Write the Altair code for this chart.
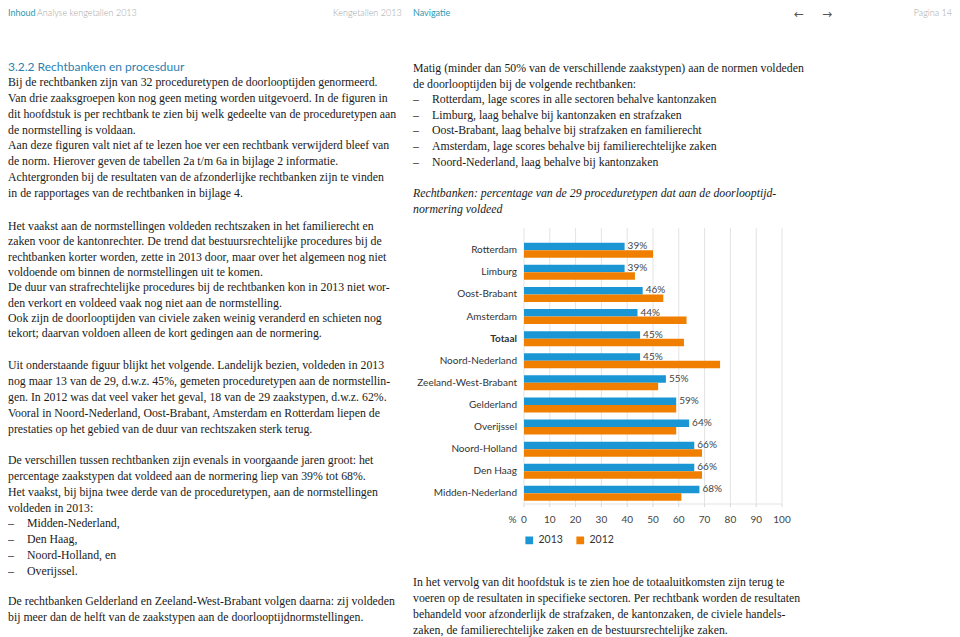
import altair as alt
import pandas as pd

# ---------------- data ----------------
courts = ["Rotterdam", "Limburg", "Oost-Brabant", "Amsterdam", "Totaal",
          "Noord-Nederland", "Zeeland-West-Brabant", "Gelderland", "Overijssel",
          "Noord-Holland", "Den Haag", "Midden-Nederland"]
v2013 = [39, 39, 46, 44, 45, 45, 55, 59, 64, 66, 66, 68]
v2012 = [50, 43, 54, 63, 62, 76, 52, 59, 59, 69, 69, 61]
years = ["2013", "2012"]
year_colors = ["#1b96d4", "#f07f00"]
ticks = [0, 10, 20, 30, 40, 50, 60, 70, 80, 90, 100]
total_label = "Totaal"

header_teal = ["Inhoud", "Navigatie"]
header_grey = ["Analyse kengetallen 2013", "Kengetallen 2013"]
page_label = "Pagina 14"

heading = "3.2.2  Rechtbanken en procesduur"

left_paras = [
    ["Bij de rechtbanken zijn van 32 proceduretypen de doorlooptijden genormeerd.",
     "Van drie zaaksgroepen kon nog geen meting worden uitgevoerd. In de figuren in",
     "dit hoofdstuk is per rechtbank te zien bij welk gedeelte van de proceduretypen aan",
     "de normstelling is voldaan.",
     "Aan deze figuren valt niet af te lezen hoe ver een rechtbank verwijderd bleef van",
     "de norm. Hierover geven de tabellen 2a t/m 6a in bijlage 2 informatie.",
     "Achtergronden bij de resultaten van de afzonderlijke rechtbanken zijn te vinden",
     "in de rapportages van de rechtbanken in bijlage 4."],
    ["Het vaakst aan de normstellingen voldeden rechtszaken in het familierecht en",
     "zaken voor de kantonrechter. De trend dat bestuursrechtelijke procedures bij de",
     "rechtbanken korter worden, zette in 2013 door, maar over het algemeen nog niet",
     "voldoende om binnen de normstellingen uit te komen.",
     "De duur van strafrechtelijke procedures bij de rechtbanken kon in 2013 niet wor-",
     "den verkort en voldeed vaak nog niet aan de normstelling.",
     "Ook zijn de doorlooptijden van civiele zaken weinig veranderd en schieten nog",
     "tekort; daarvan voldoen alleen de kort gedingen aan de normering."],
    ["Uit onderstaande figuur blijkt het volgende. Landelijk bezien, voldeden in 2013",
     "nog maar 13 van de 29, d.w.z. 45%, gemeten proceduretypen aan de normstellin-",
     "gen. In 2012 was dat veel vaker het geval, 18 van de 29 zaakstypen, d.w.z. 62%.",
     "Vooral in Noord-Nederland, Oost-Brabant, Amsterdam en Rotterdam liepen de",
     "prestaties op het gebied van de duur van rechtszaken sterk terug."],
    ["De verschillen tussen rechtbanken zijn evenals in voorgaande jaren groot: het",
     "percentage zaakstypen dat voldeed aan de normering liep van 39% tot 68%.",
     "Het vaakst, bij bijna twee derde van de proceduretypen, aan de normstellingen",
     "voldeden in 2013:",
     "– Midden-Nederland,",
     "– Den Haag,",
     "– Noord-Holland, en",
     "– Overijssel."],
    ["De rechtbanken Gelderland en Zeeland-West-Brabant volgen daarna: zij voldeden",
     "bij meer dan de helft van de zaakstypen aan de doorlooptijdnormstellingen."],
]

right_paras = [
    ["Matig (minder dan 50% van de verschillende zaakstypen) aan de normen voldeden",
     "de doorlooptijden bij de volgende rechtbanken:",
     "– Rotterdam, lage scores in alle sectoren behalve kantonzaken",
     "– Limburg, laag behalve bij kantonzaken en strafzaken",
     "– Oost-Brabant, laag behalve bij strafzaken en familierecht",
     "– Amsterdam, lage scores behalve bij familierechtelijke zaken",
     "– Noord-Nederland, laag behalve bij kantonzaken"],
]
chart_title_lines = ["Rechtbanken: percentage van de 29 proceduretypen dat aan de doorlooptijd-",
                     "normering voldeed"]
bottom_paras = [
    ["In het vervolg van dit hoofdstuk is te zien hoe de totaaluitkomsten zijn terug te",
     "voeren op de resultaten in specifieke sectoren. Per rechtbank worden de resultaten",
     "behandeld voor afzonderlijk de strafzaken, de kantonzaken, de civiele handels-",
     "zaken, de familierechtelijke zaken en de bestuursrechtelijke zaken."],
]

# ---------------- layout helpers ----------------
OX, OY = 8, 8  # page margin
W, H = 944, 629
SERIF = "Liberation Serif"
SANS = "Lato"
SERIF_SIZE = 11.8
TEXT_COL = "#1a1a1a"


def layout(paras, x0, starts, pitches, indent):
    rows = []
    for para, y0, pitch in zip(paras, starts, pitches):
        for i, line in enumerate(para):
            y = y0 + i * pitch - OY
            if line.startswith("– "):
                rows.append({"x": x0 - OX, "y": y, "text": "–"})
                rows.append({"x": x0 + indent - OX, "y": y, "text": line[2:]})
            else:
                rows.append({"x": x0 - OX, "y": y, "text": line})
    return pd.DataFrame(rows)


def text_layer(df, font=SERIF, size=SERIF_SIZE, color=TEXT_COL, style="normal",
               weight="normal", align="left"):
    return alt.Chart(df).mark_text(
        align=align, baseline="middle", font=font, fontSize=size, color=color,
        fontStyle=style, fontWeight=weight
    ).encode(
        x=alt.X("x:Q", scale=None, axis=None),
        y=alt.Y("y:Q", scale=None, axis=None),
        text="text:N",
    )


# ---------------- page text ----------------
left_df = layout(left_paras, 8, [82, 226, 365, 460, 601], [15.85, 15.35, 16.0, 15.86, 16.0], 19)
right_df = layout(right_paras, 413, [68], [15.6], 19)
title_df = layout([chart_title_lines], 413, [193], [15.6], 19)
bottom_df = layout(bottom_paras, 413, [582], [16.0], 19)
heading_df = pd.DataFrame([{"x": 8 - OX, "y": 67 - OY, "text": heading}])

teal_df = pd.DataFrame([{"x": hx - OX, "y": 4.5, "text": t}
                        for hx, t in zip([8, 413], header_teal)])
grey_df = pd.DataFrame([{"x": hx - OX, "y": 4.5, "text": t}
                        for hx, t in zip([37, 333], header_grey)])
page_df = pd.DataFrame([{"x": W, "y": 4.5, "text": page_label}])
arrows_df = pd.DataFrame([{"x": 799 - OX, "y": 6, "text": "←"},
                          {"x": 827 - OX, "y": 6, "text": "→"}])

# ---------------- bar chart ----------------
bars_df = pd.DataFrame(
    [{"court": c, "year": years[0], "value": a} for c, a in zip(courts, v2013)] +
    [{"court": c, "year": years[1], "value": b} for c, b in zip(courts, v2012)]
)
lab_df = pd.DataFrame({"court": courts, "value": v2013,
                       "label": [f"{v}%" for v in v2013]})
cat_df = pd.DataFrame({"court": courts})
ticks_df = pd.DataFrame({"tick": ticks, "label": [str(t) for t in ticks]})
base_df = pd.DataFrame({"start": [ticks[0]], "end": [ticks[-1]]})

XS = alt.Scale(domain=[ticks[0], ticks[-1]], range=[524 - OX, 782 - OX])
YS = alt.Scale(domain=courts, range=[239.2 - OY, 504.4 - OY],
               paddingInner=0.32, paddingOuter=0.16)

GRID_TOP, GRID_BOT = 228 - OY, 504 - OY

grid = alt.Chart(ticks_df).mark_rule(color="#e3e3e3", strokeWidth=1).encode(
    x=alt.X("tick:Q", scale=XS, axis=None),
    y=alt.value(GRID_TOP), y2=alt.value(GRID_BOT),
)
baseline = alt.Chart(base_df).mark_rule(color="#e3e3e3", strokeWidth=1).encode(
    x=alt.X("start:Q", scale=XS, axis=None), x2="end:Q",
    y=alt.value(GRID_BOT),
)
tickmarks = alt.Chart(ticks_df).mark_rule(color="#d8d8d8", strokeWidth=1).encode(
    x=alt.X("tick:Q", scale=XS, axis=None),
    y=alt.value(GRID_BOT), y2=alt.value(GRID_BOT + 3),
)
bars = alt.Chart(bars_df).mark_bar().encode(
    x=alt.X("value:Q", scale=XS, axis=None),
    y=alt.Y("court:N", sort=courts, scale=YS, axis=None),
    yOffset=alt.YOffset("year:N", sort=years,
                        scale=alt.Scale(domain=years, paddingInner=0, paddingOuter=0)),
    color=alt.Color("year:N", sort=years,
                    scale=alt.Scale(domain=years, range=year_colors),
                    legend=alt.Legend(orient="none", legendX=516, legendY=527,
                                      direction="horizontal", title=None,
                                      symbolType="square", symbolSize=60,
                                      symbolStrokeWidth=0,
                                      labelFont=SANS, labelFontSize=10.5,
                                      labelColor="#333333", labelOffset=4,
                                      columnPadding=12, padding=0)),
)
value_labels = alt.Chart(lab_df).mark_text(
    align="left", baseline="middle", dx=3, dy=-4, font=SANS, fontSize=10,
    color="#444444"
).encode(
    x=alt.X("value:Q", scale=XS, axis=None),
    y=alt.Y("court:N", sort=courts, scale=YS, axis=None),
    text="label:N",
)


def cat_label_layer(keep_total, weight):
    test = (alt.datum.court == total_label) if keep_total else (alt.datum.court != total_label)
    return alt.Chart(cat_df).transform_filter(test).mark_text(
        align="right", baseline="middle", font=SANS, fontSize=10, color="#333333",
        fontWeight=weight
    ).encode(
        x=alt.value(517 - OX),
        y=alt.Y("court:N", sort=courts, scale=YS, axis=None),
        text="court:N",
    )


tick_labels = alt.Chart(ticks_df).mark_text(
    align="center", baseline="middle", font=SANS, fontSize=10, color="#444444"
).encode(
    x=alt.X("tick:Q", scale=XS, axis=None),
    y=alt.value(520 - OY),
    text="label:N",
)
pct_df = pd.DataFrame([{"x": 516.5 - OX, "y": 520 - OY, "text": "%"}])
pct_label = text_layer(pct_df, font=SANS, size=10, color="#444444", align="right")

chart = alt.layer(
    text_layer(teal_df, font=SANS, size=9, color="#2a9bb3"),
    text_layer(grey_df, font=SANS, size=9, color="#a5a5a5", weight=300),
    text_layer(page_df, font=SANS, size=9, color="#a5a5a5", align="right", weight=300),
    text_layer(arrows_df, font="DejaVu Sans", size=12, color="#555555", align="center"),
    text_layer(heading_df, font=SANS, size=12, color="#2b7fb0"),
    text_layer(left_df), text_layer(right_df),
    text_layer(title_df, style="italic"), text_layer(bottom_df),
    grid, baseline, tickmarks, bars, value_labels,
    cat_label_layer(False, "normal"), cat_label_layer(True, "bold"),
    tick_labels, pct_label,
).resolve_scale(
    x="independent", y="independent", color="independent"
).properties(
    width=W, height=H, padding=0, autosize=alt.AutoSizeParams(type="none")
).configure_view(stroke=None)

chart.save("out.html", embed_options={"renderer": "svg", "actions": False})
